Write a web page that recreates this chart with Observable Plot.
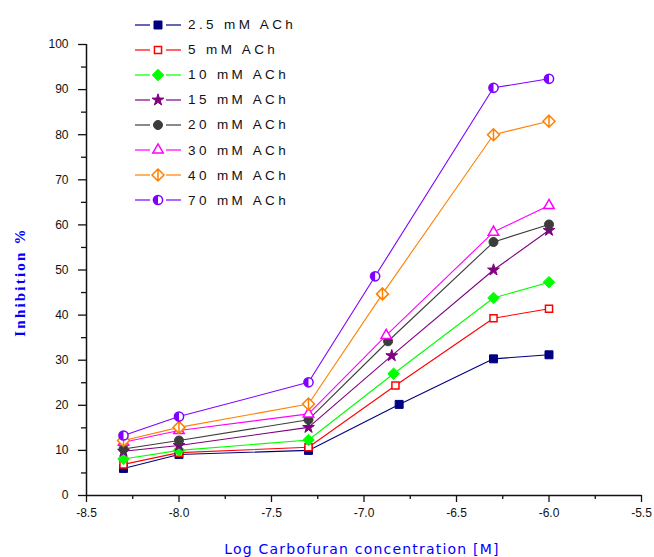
<!DOCTYPE html>
<html><head><meta charset="utf-8">
<script src="https://cdn.jsdelivr.net/npm/d3@7"></script>
<script src="https://cdn.jsdelivr.net/npm/@observablehq/plot@0.6"></script>
<style>
body{margin:0;background:#fff}
#wrap{position:relative;width:654px;height:557px;overflow:hidden}
#legend{position:absolute;left:132px;top:12px;font-family:"Liberation Sans",Arial,sans-serif;font-size:13.5px;letter-spacing:3.4px;color:#111}
#legend .row{display:flex;align-items:center;height:25.1px}
#legend svg{margin-right:4px}
#ylab{position:absolute;left:20px;top:282px;transform:translate(-50%,-50%) rotate(-90deg);font-family:"Liberation Serif","DejaVu Serif",serif;font-weight:bold;font-size:15px;letter-spacing:2.2px;color:#0000ff;white-space:nowrap}
#xlab{position:absolute;left:362px;top:549px;transform:translate(-50%,-50%);font-family:"DejaVu Sans",Verdana,sans-serif;font-size:14px;letter-spacing:1.2px;color:#0000ff;white-space:nowrap}
</style>
</head><body><div id="wrap"><div id="legend"></div><div id="ylab">Inhibition %</div><div id="xlab">Log Carbofuran concentration [M]</div></div>
<script>
// ---- data ----
const seriesNames = ["2.5 mM ACh","5 mM ACh","10 mM ACh","15 mM ACh","20 mM ACh","30 mM ACh","40 mM ACh","70 mM ACh"];
const seriesColors = ["#000080","#ff0000","#00ff00","#800080","#3c3c3c","#ff00ff","#ff8000","#8000ff"];
const logLow = [-8.3, -8.0, -7.3];
const logMid = [-6.81, -6.83, -6.84, -6.85, -6.87, -6.88, -6.9, -6.94];
const logHigh = [-6.3, -6.0];
const inh_2_5 = [6.0, 9.1, 10.0, 20.2, 30.3, 31.2];
const inh_5   = [6.9, 9.5, 10.7, 24.4, 39.3, 41.4];
const inh_10  = [8.1, 10.0, 12.3, 27.0, 43.8, 47.3];
const inh_15  = [9.8, 11.1, 15.1, 31.0, 50.0, 58.8];
const inh_20  = [10.3, 12.2, 16.8, 34.2, 56.2, 60.1];
const inh_30  = [11.8, 14.4, 18.1, 35.5, 58.4, 64.3];
const inh_40  = [12.2, 15.1, 20.3, 44.7, 80.0, 83.0];
const inh_70  = [13.3, 17.5, 25.1, 48.6, 90.4, 92.4];
const yMajor = [0,10,20,30,40,50,60,70,80,90,100];
const yMinor = [5,15,25,35,45,55,65,75,85,95];
const xMajor = [-8.5,-8.0,-7.5,-7.0,-6.5,-6.0,-5.5];
const xMinor = [-8.25,-7.75,-7.25,-6.75,-6.25,-5.75];

const allInh = [inh_2_5, inh_5, inh_10, inh_15, inh_20, inh_30, inh_40, inh_70];

// ---- custom symbols ----
const diamondBar = {draw(ctx, size){const h=Math.sqrt(size)*0.62625;ctx.moveTo(0,-h);ctx.lineTo(h,0);ctx.lineTo(0,h);ctx.lineTo(-h,0);ctx.closePath();ctx.moveTo(0,-h);ctx.lineTo(0,h);}};
const halfDisk = {draw(ctx, size){const r=Math.sqrt(size/Math.PI);ctx.moveTo(0,-r);ctx.arc(0,0,r,-Math.PI/2,Math.PI/2,true);ctx.closePath();}};

// marker styles per series
const markerSym = [d3.symbolSquare, d3.symbolSquare, d3.symbolDiamond2, d3.symbolStar, d3.symbolCircle, d3.symbolTriangle2, diamondBar, d3.symbolCircle];
const markerFilled = [true, false, true, true, true, false, false, false];
const markerR = [4.5, 4.0, 5.2, 3.7, 4.5, 5.0, 5.4, 4.6];

const data = seriesNames.map((name, i) => {
  const xs = [...logLow, logMid[i], ...logHigh];
  return xs.map((x, j) => ({series: name, x, y: allInh[i][j]}));
});

const marks = [];
data.forEach((pts, i) => {
  marks.push(Plot.line(pts, {x: "x", y: "y", stroke: seriesColors[i], strokeWidth: 1.1}));
});
data.forEach((pts, i) => {
  marks.push(Plot.dot(pts, {x: "x", y: "y", symbol: markerSym[i], r: markerR[i],
    fill: markerFilled[i] ? seriesColors[i] : "white", stroke: seriesColors[i], strokeWidth: markerFilled[i] ? 1 : 1.5}));
  if (i === 7) marks.push(Plot.dot(pts, {x: "x", y: "y", symbol: halfDisk, r: markerR[i], fill: seriesColors[i], stroke: "none"}));
});

const chart = Plot.plot({
  width: 654, height: 557,
  marginLeft: 86, marginRight: 13, marginTop: 44, marginBottom: 62,
  x: {domain: [-8.5, -5.5]},
  y: {domain: [0, 100]},
  style: {fontFamily: "'Liberation Sans', Arial, sans-serif", fontSize: "12px", color: "#111", background: "white"},
  marks: [
    Plot.axisY(yMajor, {tickSize: 8, tickPadding: 10, tickFormat: d => String(d), label: null, strokeWidth: 1.3}),
    Plot.axisY(yMinor, {tickSize: 5, tickFormat: () => "", label: null, strokeWidth: 1.3}),
    Plot.axisX(xMajor, {tickSize: 7, tickPadding: 6, tickFormat: d => d.toFixed(1), label: null, strokeWidth: 1.3}),
    Plot.axisX(xMinor, {tickSize: 4, tickFormat: () => "", label: null, strokeWidth: 1.3}),
    Plot.ruleX([-8.5], {stroke: "#111", strokeWidth: 1.5}),
    Plot.ruleY([0], {stroke: "#111", strokeWidth: 1.5}),
    ...marks
  ]
});
chart.style.position = "absolute";
chart.style.left = "0";
chart.style.top = "0";
const wrap = document.getElementById("wrap");
wrap.insertBefore(chart, wrap.firstChild);

// ---- legend ----
const legend = document.getElementById("legend");
seriesNames.forEach((name, i) => {
  const row = document.createElement("div");
  row.className = "row";
  const svg = d3.create("svg").attr("width", 52).attr("height", 20);
  svg.append("line").attr("x1", 3).attr("x2", 18).attr("y1", 10).attr("y2", 10).attr("stroke", seriesColors[i]).attr("stroke-width", 1.2);
  svg.append("line").attr("x1", 34).attr("x2", 49).attr("y1", 10).attr("y2", 10).attr("stroke", seriesColors[i]).attr("stroke-width", 1.2);
  const size = Math.PI * markerR[i] * markerR[i];
  svg.append("path").attr("transform", "translate(26,10)")
    .attr("d", d3.symbol(markerSym[i], size)())
    .attr("fill", markerFilled[i] ? seriesColors[i] : "white")
    .attr("stroke", seriesColors[i]).attr("stroke-width", markerFilled[i] ? 1 : 1.5);
  if (i === 7) svg.append("path").attr("transform", "translate(26,10)").attr("d", d3.symbol(halfDisk, size)()).attr("fill", seriesColors[i]);
  row.appendChild(svg.node());
  const span = document.createElement("span");
  span.textContent = name;
  row.appendChild(span);
  legend.appendChild(row);
});
</script>
</body></html>
